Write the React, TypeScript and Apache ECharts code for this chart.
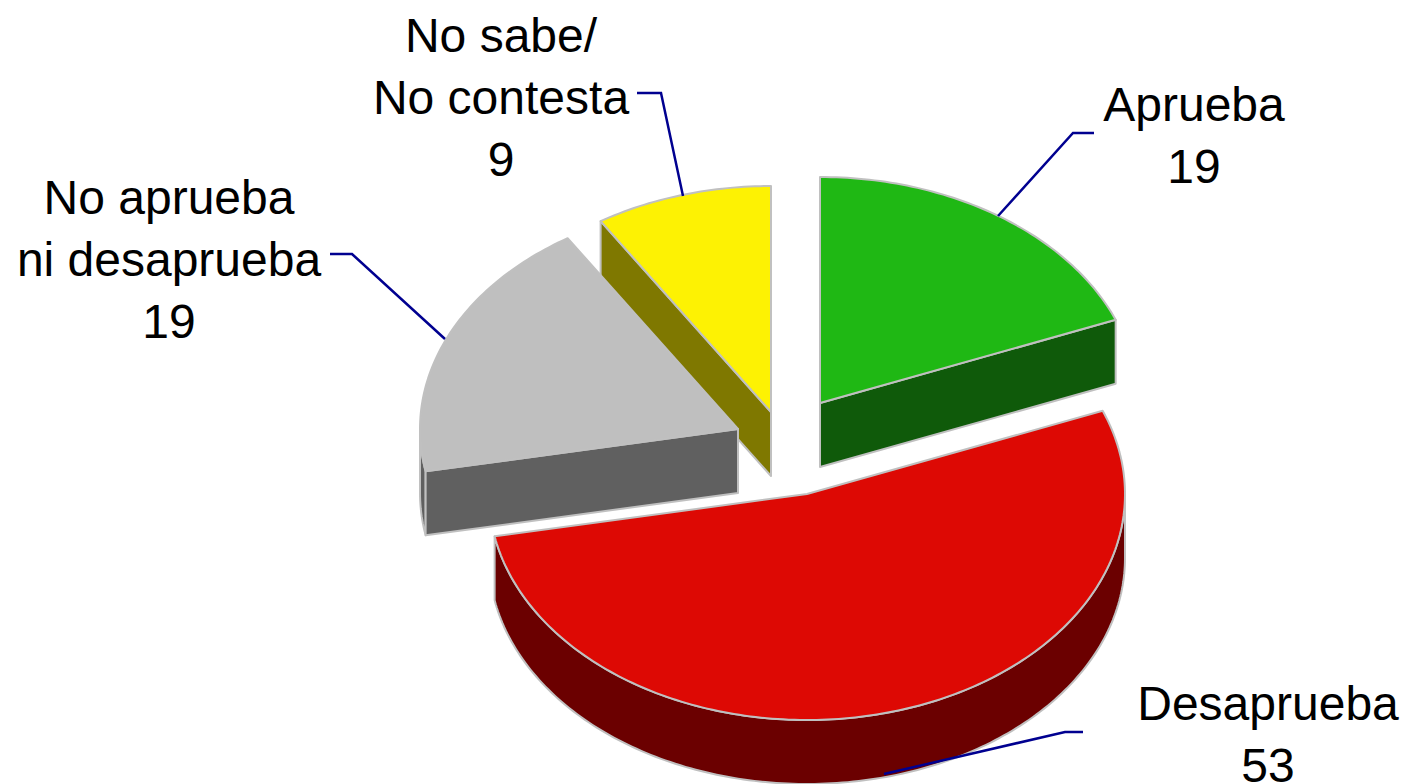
import React, { useEffect, useRef } from "react";
import * as echarts from "echarts";

const categories = ["Aprueba", "Desaprueba", "No aprueba ni desaprueba", "No sabe/No contesta"];
const values = [19, 53, 19, 9];
const labelTexts = ["Aprueba\n19", "Desaprueba\n53", "No aprueba\nni desaprueba\n19", "No sabe/\nNo contesta\n9"];

const topColors = ["#1FB814", "#DD0904", "#BFBFBF", "#FDF203"];
const sideColors = ["#0F5A0A", "#6B0000", "#606060", "#7F7800"];
const edgeColor = "#C0C0C0";
const leaderColor = "#000090";

// Layout of the exploded, tilted pie
const RX = 318;
const RY = 226;
const DEPTH = 64;
const sliceCentres = [
  [820, 403],
  [807, 494],
  [738, 429],
  [771, 412],
];
const drawOrder = [3, 2, 0, 1];
const labelAnchors = [
  [1194, 135],
  [1268, 734],
  [169, 259],
  [501, 97],
];
const leaders = [
  [[998, 216], [1073, 133], [1094, 133]],
  [[884, 774], [1065, 732], [1083, 732]],
  [[445, 339], [352, 254], [330, 254]],
  [[683, 196], [661, 93], [637, 93]],
];

const total = values.reduce((a, b) => a + b, 0);
const DEG = Math.PI / 180;

function rimPoint(c: number[], a: number, dy = 0) {
  return [c[0] + RX * Math.sin(a * DEG), c[1] - RY * Math.cos(a * DEG) + dy];
}

function arcPoints(c: number[], a0: number, a1: number, dy = 0) {
  const n = Math.max(2, Math.ceil(Math.abs(a1 - a0)));
  const pts: number[][] = [];
  for (let i = 0; i <= n; i++) pts.push(rimPoint(c, a0 + ((a1 - a0) * i) / n, dy));
  return pts;
}

function startAngle(i: number) {
  let s = 0;
  for (let k = 0; k < i; k++) s += values[k];
  return (s / total) * 360;
}

const edgeStyle = (fill: string) => ({ fill, stroke: edgeColor, lineWidth: 2, lineJoin: "round" });

function renderSlice(params: any, api: any) {
  const idx = drawOrder[params.dataIndex];
  const val = api.value(0);
  const a0 = startAngle(idx);
  const a1 = a0 + (val / total) * 360;
  const c = sliceCentres[idx];
  const side = sideColors[idx];
  const children: any[] = [];
  const poly = (points: number[][], fill: string) =>
    children.push({ type: "polygon", shape: { points }, style: edgeStyle(fill) });

  // Outer wall: the part of the rim that faces the viewer
  const w0 = Math.max(a0, 90);
  const w1 = Math.min(a1, 270);
  if (w1 > w0) {
    poly([...arcPoints(c, w0, w1), ...arcPoints(c, w1, w0, DEPTH)], side);
  }
  // Cut faces that face the viewer
  if (Math.sin(a0 * DEG) < -1e-6) {
    poly([c, rimPoint(c, a0), rimPoint(c, a0, DEPTH), [c[0], c[1] + DEPTH]], side);
  }
  if (Math.sin(a1 * DEG) > 1e-6) {
    poly([c, rimPoint(c, a1), rimPoint(c, a1, DEPTH), [c[0], c[1] + DEPTH]], side);
  }
  // Top face
  poly([c, ...arcPoints(c, a0, a1)], topColors[idx]);
  return { type: "group", children };
}

export default function App() {
  const ref = useRef<HTMLDivElement>(null);
  useEffect(() => {
    const chart = echarts.init(ref.current!, null, { renderer: "svg" });
    chart.setOption({
      animation: false,
      backgroundColor: "#ffffff",
      series: [
        {
          type: "custom",
          coordinateSystem: "none",
          silent: true,
          renderItem: renderSlice,
          data: drawOrder.map((i) => ({ name: categories[i], value: [values[i]] })),
        },
      ],
      graphic: [
        ...leaders.map((points) => ({
          type: "polyline",
          z: 10,
          shape: { points },
          style: { fill: "none", stroke: leaderColor, lineWidth: 2.5 },
        })),
        ...labelTexts.map((text, i) => ({
          type: "text",
          z: 11,
          x: labelAnchors[i][0],
          y: labelAnchors[i][1],
          style: {
            text,
            fill: "#000000",
            font: '48px "Liberation Sans", Arial, sans-serif',
            lineHeight: 62,
            align: "center",
            verticalAlign: "middle",
          },
        })),
      ],
    });
    return () => chart.dispose();
  }, []);
  return <div ref={ref} style={{ position: "fixed", left: 0, top: 0, width: 1406, height: 784 }} />;
}
